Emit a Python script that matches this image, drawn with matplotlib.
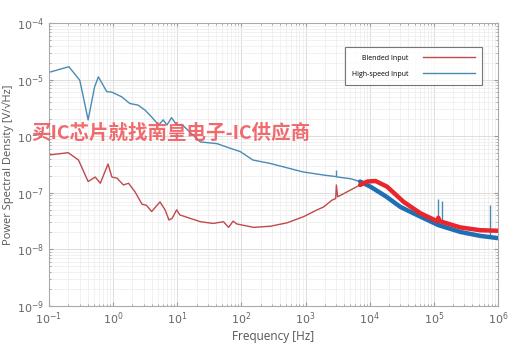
import matplotlib
matplotlib.use('Agg')
import numpy as np
import matplotlib.pyplot as plt
from matplotlib.ticker import LogLocator, NullFormatter
from matplotlib.lines import Line2D

plt.rcParams['font.family'] = ['Open Sans', 'Noto Sans CJK SC', 'DejaVu Sans']

# 高速输入 (蓝色) - log10 频率 / log10 PSD
blue_logf = [-1.0, -0.69, -0.52, -0.39, -0.29, -0.23, -0.10, -0.02, 0.13, 0.26, 0.39, 0.50,
             0.60, 0.71, 0.78, 0.84, 0.91, 0.99, 1.07, 1.36, 1.62, 1.82, 1.98, 2.18, 2.45,
             2.96, 3.31, 3.46, 3.50, 3.70, 3.85, 4.01, 4.25, 4.48, 4.79, 5.07, 5.41, 5.72, 6.0]
blue_logp = [-4.87, -4.77, -5.01, -5.71, -5.13, -4.95, -5.21, -5.22, -5.30, -5.42, -5.45, -5.54,
             -5.66, -5.80, -5.71, -5.80, -5.67, -5.80, -5.79, -6.10, -6.13, -6.21, -6.27, -6.42, -6.48,
             -6.63, -6.69, -6.71, -6.72, -6.75, -6.80, -6.89, -7.06, -7.25, -7.42, -7.57, -7.69, -7.76, -7.80]
# 尖峰: 频率, 基线, 峰值
blue_spike_logf = [3.48, 5.07, 5.12, 5.88]
blue_spike_base = [-6.71, -7.57, -7.59, -7.78]
blue_spike_peak = [-6.60, -7.10, -7.15, -7.22]

# 混合输入 (红色)
red_logf = [-1.0, -0.70, -0.54, -0.39, -0.28, -0.20, -0.08, -0.02, 0.06, 0.16, 0.24, 0.34,
            0.45, 0.52, 0.60, 0.73, 0.81, 0.87, 0.92, 0.99, 1.04, 1.36, 1.56, 1.72, 1.80,
            1.87, 1.93, 2.19, 2.45, 2.71, 2.97, 3.18, 3.28, 3.41, 3.47, 3.48, 3.50, 3.70,
            3.85, 3.96, 4.09, 4.27, 4.53, 4.79, 5.05, 5.07, 5.09, 5.41, 5.72, 6.0]
red_logp = [-6.33, -6.29, -6.42, -6.80, -6.72, -6.83, -6.49, -6.72, -6.74, -6.86, -6.83, -6.98,
            -7.20, -7.22, -7.33, -7.16, -7.30, -7.48, -7.45, -7.30, -7.39, -7.51, -7.54, -7.51, -7.61,
            -7.50, -7.55, -7.61, -7.59, -7.53, -7.42, -7.30, -7.25, -7.13, -7.10, -6.86, -7.07, -6.95,
            -6.86, -6.80, -6.79, -6.89, -7.16, -7.36, -7.50, -7.44, -7.50, -7.61, -7.66, -7.67]

x_ticks = [-1, 0, 1, 2, 3, 4, 5, 6]
y_ticks = [-9, -8, -7, -6, -5, -4]
labels = ['Blended Input', 'High-speed Input']
thick_from = 3.84  # 高频段曲线更粗

blue_f = 10 ** np.array(blue_logf)
blue_p = 10 ** np.array(blue_logp)
red_f = 10 ** np.array(red_logf)
red_p = 10 ** np.array(red_logp)

fig = plt.figure(figsize=(5.18, 3.56), dpi=100)
ax = fig.add_axes([0.0946, 0.1404, 0.8668, 0.7946])

c_blue_thin, c_blue = '#4a8ab5', '#1f6fb4'
c_red_thin, c_red = '#c0494c', '#e8262c'

ax.plot(blue_f, blue_p, color=c_blue_thin, lw=1.0)
ax.vlines(10 ** np.array(blue_spike_logf), 10 ** np.array(blue_spike_base),
          10 ** np.array(blue_spike_peak), color=c_blue_thin, lw=1.0)
ax.plot(red_f, red_p, color=c_red_thin, lw=1.0)
hb = blue_f >= 10 ** thick_from
hr = red_f >= 10 ** thick_from
ax.plot(blue_f[hb], blue_p[hb], color=c_blue, lw=3.2, solid_capstyle='round')
ax.plot(red_f[hr], red_p[hr], color=c_red, lw=3.2, solid_capstyle='round')

ax.set_xscale('log')
ax.set_yscale('log')
ax.set_xlim(10.0 ** x_ticks[0], 10.0 ** x_ticks[-1])
ax.set_ylim(10.0 ** y_ticks[0], 10.0 ** y_ticks[-1])
ax.set_xticks([10.0 ** t for t in x_ticks])
ax.set_yticks([10.0 ** t for t in y_ticks])
ax.set_xticklabels([r'$10^{%d}$' % t for t in x_ticks])
ax.set_yticklabels([r'$10^{%d}$' % t for t in y_ticks])
ax.xaxis.set_minor_locator(LogLocator(base=10, subs=np.arange(2, 10), numticks=20))
ax.yaxis.set_minor_locator(LogLocator(base=10, subs=np.arange(2, 10), numticks=20))
ax.xaxis.set_minor_formatter(NullFormatter())
ax.yaxis.set_minor_formatter(NullFormatter())

ax.grid(True, which='major', color='#d8d8d8', lw=0.6)
ax.grid(True, which='minor', color='#ececec', lw=0.5)
ax.set_axisbelow(True)
ax.tick_params(which='both', direction='in', top=True, right=True, colors='#999999',
               labelcolor='#666666', labelsize=8)
ax.tick_params(which='major', length=3)
ax.tick_params(which='minor', length=1.5)
for s in ax.spines.values():
    s.set_color('#aaaaaa')
    s.set_linewidth(0.8)

ax.set_xlabel('Frequency [Hz]', fontsize=8.5, color='#555555', labelpad=2)
ax.set_ylabel('Power Spectral Density [V/\u221aHz]', fontsize=8, color='#555555', labelpad=2)

# 图例 (MATLAB 风格: 文字在左，线在右)
handles = [Line2D([], [], color=c_red_thin, lw=1.0), Line2D([], [], color=c_blue_thin, lw=1.0)]
leg = ax.legend(handles, labels, loc='upper right',
                bbox_to_anchor=(0.965, 0.915), markerfirst=False, fontsize=5,
                frameon=True, fancybox=False, edgecolor='#555555', handlelength=7.5,
                borderpad=1.1, labelspacing=1.3, handletextpad=2.0, borderaxespad=0)
leg.get_frame().set_linewidth(0.8)

# 水印文字
fig.text(0.33, 0.627, '买IC芯片就找南皇电子-IC供应商', fontsize=14, fontweight='bold',
         color='#f05a5e', ha='center', va='center', alpha=0.9, zorder=10,
         family=['Noto Sans CJK SC', 'DejaVu Sans'])

fig.savefig('out.png', dpi=100)
